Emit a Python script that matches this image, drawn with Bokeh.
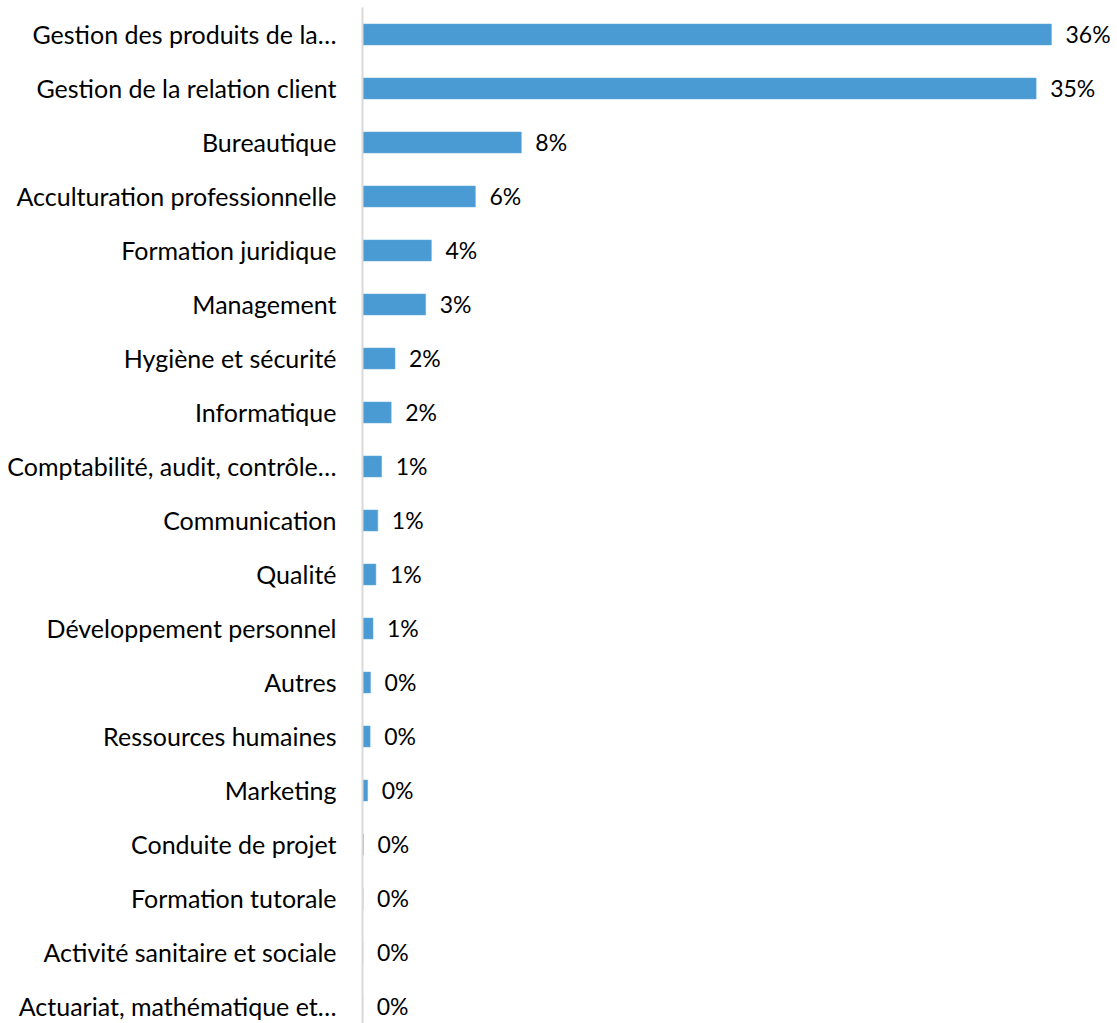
from bokeh.plotting import figure
from bokeh.models import ColumnDataSource, Range1d, FixedTicker
from bokeh.core.properties import value
from bokeh.embed import file_html
from bokeh.resources import INLINE

categories = [
    "Gestion des produits de la…",
    "Gestion de la relation client",
    "Bureautique",
    "Acculturation professionnelle",
    "Formation juridique",
    "Management",
    "Hygiène et sécurité",
    "Informatique",
    "Comptabilité, audit, contrôle…",
    "Communication",
    "Qualité",
    "Développement personnel",
    "Autres",
    "Ressources humaines",
    "Marketing",
    "Conduite de projet",
    "Formation tutorale",
    "Activité sanitaire et sociale",
    "Actuariat, mathématique et…",
]
values = [36.0, 35.2, 8.3, 5.9, 3.6, 3.3, 1.7, 1.5, 1.0, 0.8, 0.7, 0.55,
          0.42, 0.4, 0.27, 0.05, 0.03, 0.02, 0.01]
labels = ["36%", "35%", "8%", "6%", "4%", "3%", "2%", "2%", "1%", "1%", "1%",
          "1%", "0%", "0%", "0%", "0%", "0%", "0%", "0%"]

FONT = "Lato"
ypos = list(range(len(categories)))
src = ColumnDataSource(dict(y=ypos, v=values, lab=labels))

p = figure(width=1117, height=1023, output_backend="svg", toolbar_location=None,
           x_range=Range1d(0, 39.45), y_range=Range1d(18.315, -0.5),
           min_border_left=362, min_border_right=0, min_border_top=7, min_border_bottom=0)
p.outline_line_color = None
p.grid.visible = False
p.xaxis.visible = False
p.background_fill_color = "white"

p.hbar(y="y", left=0, right="v", height=0.39, source=src,
       fill_color="#4a9bd3", line_color="#6aaddc", line_width=0.5)

p.text(x="v", y="y", text="lab", source=src, x_offset=14,
       text_align="left", text_baseline="middle",
       text_font=value(FONT), text_font_size="23px", text_color="#000000")

yax = p.yaxis[0]
yax.ticker = FixedTicker(ticks=ypos)
yax.major_label_overrides = {i: c for i, c in zip(ypos, categories)}
yax.major_tick_line_color = None
yax.major_tick_out = 0
yax.major_tick_in = 0
yax.minor_tick_line_color = None
yax.axis_line_color = "#d9d9d9"
yax.axis_line_width = 2
yax.major_label_standoff = 26
yax.major_label_text_font = FONT
yax.major_label_text_font_size = "25px"
yax.major_label_text_color = "#000000"

open("out.html", "w").write(file_html(p, INLINE))
